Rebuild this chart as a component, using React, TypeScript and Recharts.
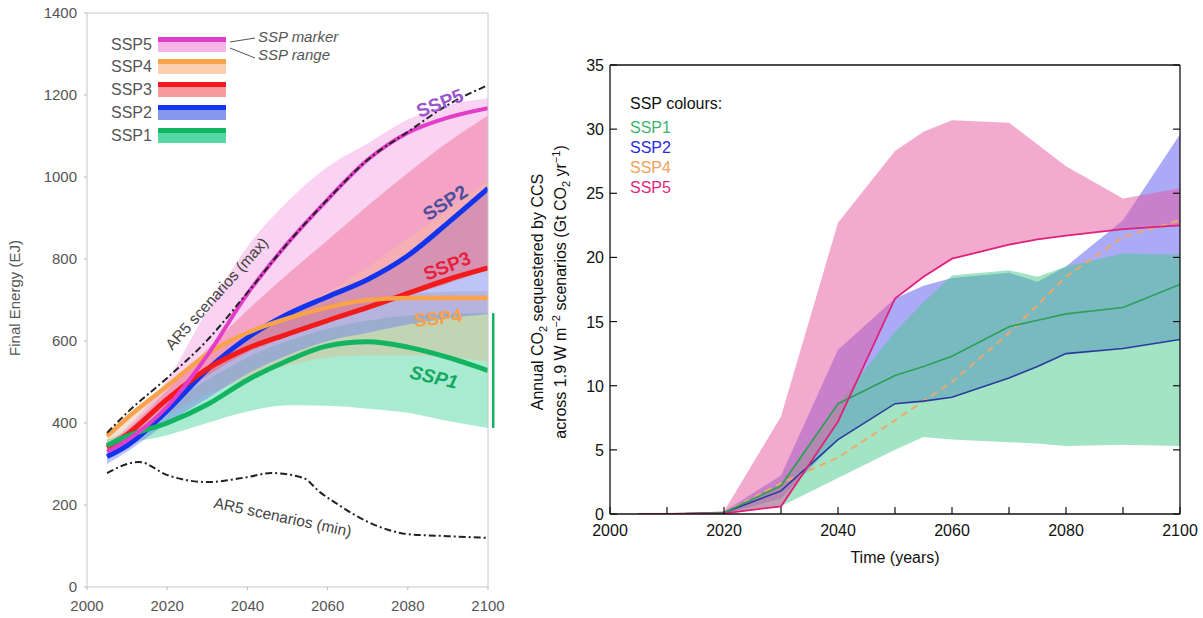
import React from "react";
import { ComposedChart, Area, Line, XAxis, YAxis, ReferenceDot, ReferenceLine } from "recharts";

const FONT = "'Liberation Sans', Arial, Helvetica, sans-serif";

// ---------------- Left panel: Final Energy (EJ) ----------------
const feYears = [2005, 2010, 2020, 2030, 2040, 2050, 2060, 2070, 2080, 2090, 2100];
const ssp1Marker = [345, 368, 400, 445, 505, 552, 588, 598, 585, 560, 528];
const ssp2Marker = [318, 345, 430, 530, 608, 665, 708, 750, 808, 888, 972];
const ssp3Marker = [340, 372, 458, 532, 582, 617, 650, 682, 716, 750, 778];
const ssp4Marker = [368, 412, 490, 568, 620, 655, 682, 700, 705, 705, 705];
const ssp5Marker = [330, 358, 440, 565, 715, 838, 945, 1042, 1108, 1145, 1168];

const ssp1Low = [315, 345, 370, 400, 428, 443, 442, 435, 425, 405, 388];
const ssp1High = [360, 380, 445, 505, 560, 600, 630, 650, 662, 667, 668];
const ssp4Low = [340, 370, 420, 470, 510, 540, 560, 565, 565, 560, 550];
const ssp4High = [375, 414, 495, 570, 620, 660, 690, 705, 715, 720, 722];
const ssp2Low = [300, 330, 400, 460, 520, 565, 600, 620, 640, 655, 665];
const ssp2High = [330, 360, 440, 535, 612, 668, 712, 755, 815, 892, 975];
const ssp3Low = [330, 360, 445, 515, 572, 610, 645, 675, 710, 740, 775];
const ssp3High = [350, 385, 480, 580, 675, 763, 846, 930, 1010, 1085, 1150];
const ssp5Low = [320, 350, 430, 520, 600, 670, 720, 780, 850, 920, 990];
const ssp5High = [345, 390, 505, 675, 830, 940, 1025, 1082, 1140, 1175, 1192];

const ar5MaxYears = [2005, 2010, 2020, 2030, 2040, 2050, 2060, 2070, 2080, 2090, 2100];
const ar5Max = [376, 425, 510, 602, 718, 838, 945, 1042, 1110, 1176, 1224];
const ar5MinYears = [2005, 2013, 2020, 2030, 2040, 2046, 2054, 2058, 2062, 2070, 2080, 2090, 2100];
const ar5Min = [278, 305, 273, 256, 268, 278, 266, 232, 205, 159, 129, 124, 120];

const feTicksX = [2000, 2020, 2040, 2060, 2080, 2100];
const feTicksY = [0, 200, 400, 600, 800, 1000, 1200, 1400];

const feLabelText = ["SSP5", "SSP2", "SSP3", "SSP4", "SSP1", "AR5 scenarios (max)", "AR5 scenarios (min)"];
const feLabelX = [2088, 2089.3, 2089.8, 2087.5, 2086.5, 2032.3, 2048.8];
const feLabelY = [1180, 937, 783, 656, 512, 716, 171];
const feLabelColor = ["#9a58c8", "#4b4f9a", "#e8203a", "#f7a24a", "#12a862", "#444", "#444"];
const feLabelAngle = [-21, -33, -21, -6, 13, -48, 12];
const feLabelSize = [19, 19, 19, 19, 19, 15.5, 15.5];
const feLabelBold = [true, true, true, true, true, false, false];
const feLabelItalic = [false, false, false, false, true, false, false];

const legendNames = ["SSP5", "SSP4", "SSP3", "SSP2", "SSP1"];
const legendDark = ["#e33cc8", "#f8a24c", "#f21a1a", "#1234ee", "#12b462"];
const legendLight = ["#f7b4e8", "#fdd0ae", "#f59a9c", "#8696f0", "#54d8a4"];

// ---------------- Right panel: CCS ----------------
const ccsYears = [2005, 2010, 2020, 2030, 2040, 2050, 2055, 2060, 2070, 2075, 2080, 2090, 2100];
const ccsSsp1 = [0, 0, 0.1, 2.2, 8.6, 10.8, 11.5, 12.3, 14.6, 15.1, 15.6, 16.1, 17.9];
const ccsSsp2 = [0, 0, 0.1, 1.8, 5.8, 8.6, 8.8, 9.1, 10.6, 11.5, 12.5, 12.9, 13.6];
const ccsSsp4 = [0, 0, 0.1, 2.4, 4.4, 7.3, 8.8, 10.3, 14.1, 16.3, 18.5, 21.6, 22.9];
const ccsSsp5 = [0, 0, 0.05, 0.6, 7.2, 16.8, 18.5, 19.9, 21.0, 21.4, 21.7, 22.2, 22.5];
const ccsSsp5Low = [0, 0, 0, 0.6, 7.2, 16.8, 18.5, 19.9, 21.0, 21.4, 21.7, 22.2, 22.5];
const ccsSsp5High = [0, 0, 0.2, 7.6, 22.7, 28.3, 29.8, 30.7, 30.5, 28.8, 27.1, 24.6, 25.4];
const ccsSsp2Low = [0, 0, 0, 1.2, 5.8, 8.6, 8.8, 9.1, 10.6, 11.5, 12.5, 12.9, 13.6];
const ccsSsp2High = [0, 0, 0.2, 3.0, 12.8, 16.8, 17.8, 18.4, 18.8, 18.1, 19.3, 22.9, 29.6];
const ccsSsp1Low = [0, 0, 0, 0.6, 2.8, 5.0, 6.0, 5.8, 5.6, 5.5, 5.3, 5.4, 5.3];
const ccsSsp1High = [0, 0, 0.1, 2.5, 8.6, 14.2, 16.5, 18.6, 19.0, 18.5, 19.3, 20.3, 20.2];

const ccsTicksX = [2000, 2010, 2020, 2030, 2040, 2050, 2060, 2070, 2080, 2090, 2100];
const ccsTicksY = [0, 5, 10, 15, 20, 25, 30, 35];
const ccsLegendNames = ["SSP1", "SSP2", "SSP4", "SSP5"];
const ccsLegendColors = ["#3db46d", "#2a2ae0", "#f0a060", "#e0287a"];

// ---------------- data tables ----------------
function buildFeRows() {
  const years = Array.from(new Set([...feYears, ...ar5MaxYears, ...ar5MinYears])).sort((a, b) => a - b);
  return years.map((y) => {
    const row: any = { year: y };
    const i = feYears.indexOf(y);
    if (i >= 0) {
      row.s1 = ssp1Marker[i];
      row.s2 = ssp2Marker[i];
      row.s3 = ssp3Marker[i];
      row.s4 = ssp4Marker[i];
      row.s5 = ssp5Marker[i];
      row.r1 = [ssp1Low[i], ssp1High[i]];
      row.r2 = [ssp2Low[i], ssp2High[i]];
      row.r3 = [ssp3Low[i], ssp3High[i]];
      row.r4 = [ssp4Low[i], ssp4High[i]];
      row.r5 = [ssp5Low[i], ssp5High[i]];
    }
    const j = ar5MaxYears.indexOf(y);
    if (j >= 0) row.amax = ar5Max[j];
    const k = ar5MinYears.indexOf(y);
    if (k >= 0) row.amin = ar5Min[k];
    return row;
  });
}

function buildCcsRows() {
  return ccsYears.map((y, i) => ({
    year: y,
    s1: ccsSsp1[i],
    s2: ccsSsp2[i],
    s4: ccsSsp4[i],
    s5: ccsSsp5[i],
    r1: [ccsSsp1Low[i], ccsSsp1High[i]],
    r2: [ccsSsp2Low[i], ccsSsp2High[i]],
    r5: [ccsSsp5Low[i], ccsSsp5High[i]],
  }));
}

const feRows = buildFeRows();
const ccsRows = buildCcsRows();

const makeLabel = (i: number) => (p: any) => (
  <text
    x={p.cx}
    y={p.cy}
    transform={`rotate(${feLabelAngle[i]} ${p.cx} ${p.cy})`}
    textAnchor="middle"
    dominantBaseline="central"
    fill={feLabelColor[i]}
    fontSize={feLabelSize[i]}
    fontWeight={feLabelBold[i] ? 700 : 400}
    fontStyle={feLabelItalic[i] ? "italic" : "normal"}
    fontFamily={FONT}
  >
    {feLabelText[i]}
  </text>
);

function LeftChart() {
  const lastLow = ssp1Low[ssp1Low.length - 1];
  const lastHigh = ssp1High[ssp1High.length - 1];
  return (
    <ComposedChart width={520} height={618} data={feRows} margin={{ top: 12, right: 31, bottom: 1, left: 37 }}>
      <XAxis
        dataKey="year"
        type="number"
        domain={[2000, 2100]}
        ticks={feTicksX}
        allowDataOverflow
        tickSize={3}
        tickMargin={10}
        height={30}
        axisLine={{ stroke: "#c8c8c8" }}
        tickLine={{ stroke: "#bbb" }}
        tick={{ fill: "#555", fontSize: 15, fontFamily: FONT }}
      />
      <XAxis xAxisId="top" orientation="top" type="number" domain={[2000, 2100]} allowDataOverflow height={1} tick={false} tickLine={false} axisLine={{ stroke: "#c8c8c8" }} />
      <YAxis
        type="number"
        domain={[0, 1400]}
        ticks={feTicksY}
        allowDataOverflow
        width={50}
        tickSize={3}
        tickMargin={7}
        axisLine={{ stroke: "#c8c8c8" }}
        tickLine={{ stroke: "#bbb" }}
        tick={{ fill: "#555", fontSize: 15, fontFamily: FONT }}
      />
      <YAxis yAxisId="right" orientation="right" type="number" domain={[0, 1400]} allowDataOverflow width={1} tick={false} tickLine={false} axisLine={{ stroke: "#c8c8c8" }} />

      <Area type="monotone" dataKey="r1" stroke="none" fill="#2fd08f" fillOpacity={0.42} connectNulls isAnimationActive={false} />
      <Area type="monotone" dataKey="r4" stroke="none" fill="#e6b48c" fillOpacity={0.4} connectNulls isAnimationActive={false} />
      <Area type="monotone" dataKey="r2" stroke="none" fill="#6a7cf0" fillOpacity={0.45} connectNulls isAnimationActive={false} />
      <Area type="monotone" dataKey="r3" stroke="none" fill="#f0606e" fillOpacity={0.5} connectNulls isAnimationActive={false} />
      <Area type="monotone" dataKey="r5" stroke="none" fill="#f090dc" fillOpacity={0.4} connectNulls isAnimationActive={false} />

      <Line type="monotone" dataKey="s2" stroke="#1234ee" strokeWidth={5} dot={false} connectNulls isAnimationActive={false} />
      <Line type="monotone" dataKey="s3" stroke="#f21a1a" strokeWidth={5} dot={false} connectNulls isAnimationActive={false} />
      <Line type="monotone" dataKey="s4" stroke="#f8a24c" strokeWidth={4.5} dot={false} connectNulls isAnimationActive={false} />
      <Line type="monotone" dataKey="s1" stroke="#12b462" strokeWidth={5} dot={false} connectNulls isAnimationActive={false} />
      <Line type="monotone" dataKey="s5" stroke="#e33cc8" strokeWidth={4} dot={false} connectNulls isAnimationActive={false} />
      <Line type="monotone" dataKey="amax" stroke="#222" strokeWidth={2} strokeDasharray="7 3 2 3" dot={false} connectNulls isAnimationActive={false} />
      <Line type="monotone" dataKey="amin" stroke="#222" strokeWidth={2} strokeDasharray="7 3 2 3" dot={false} connectNulls isAnimationActive={false} />

      <ReferenceLine
        segment={[{ x: 2101.3, y: lastLow }, { x: 2101.3, y: lastHigh }]}
        stroke="#12b462"
        strokeWidth={2.5}
        ifOverflow="visible"
      />
      {feLabelText.map((t, i) => (
        <ReferenceDot key={t} x={feLabelX[i]} y={feLabelY[i]} r={1} shape={makeLabel(i)} />
      ))}
    </ComposedChart>
  );
}

const TK = 7;
const BottomTick = (p: any) => {
  const v = p.payload.value;
  return (
    <g>
      <line x1={p.x} x2={p.x} y1={p.y} y2={p.y - TK} stroke="#111" strokeWidth={1.2} />
      {v % 20 === 0 ? (
        <text x={p.x} y={p.y + 22} textAnchor="middle" fontSize={16} fill="#111" fontFamily={FONT}>
          {v}
        </text>
      ) : null}
    </g>
  );
};
const TopTick = (p: any) => (
  <line x1={p.x} x2={p.x} y1={p.y} y2={p.y + TK} stroke="#111" strokeWidth={1.2} />
);
const LeftTick = (p: any) => (
  <g>
    <line x1={p.x} x2={p.x + TK} y1={p.y} y2={p.y} stroke="#111" strokeWidth={1.2} />
    <text x={p.x - 6} y={p.y + 6} textAnchor="end" fontSize={16} fill="#111" fontFamily={FONT}>
      {p.payload.value}
    </text>
  </g>
);
const RightTick = (p: any) => (
  <line x1={p.x} x2={p.x - TK} y1={p.y} y2={p.y} stroke="#111" strokeWidth={1.2} />
);

function RightChart() {
  return (
    <ComposedChart width={693} height={618} data={ccsRows} margin={{ top: 55, right: 13, bottom: 74, left: 60 }}>
      <XAxis dataKey="year" type="number" domain={[2000, 2100]} ticks={ccsTicksX} allowDataOverflow height={30} tickSize={0} tickMargin={0} tickLine={false} axisLine={{ stroke: "#111", strokeWidth: 1.3 }} tick={<BottomTick />} interval={0} />
      <XAxis xAxisId="top" orientation="top" type="number" domain={[2000, 2100]} ticks={ccsTicksX} allowDataOverflow height={10} tickSize={0} tickMargin={0} tickLine={false} axisLine={{ stroke: "#111", strokeWidth: 1.3 }} tick={<TopTick />} interval={0} />
      <YAxis type="number" domain={[0, 35]} ticks={ccsTicksY} allowDataOverflow width={40} tickSize={0} tickMargin={0} tickLine={false} axisLine={{ stroke: "#111", strokeWidth: 1.3 }} tick={<LeftTick />} interval={0} />
      <YAxis yAxisId="right" orientation="right" type="number" domain={[0, 35]} ticks={ccsTicksY} allowDataOverflow width={10} tickSize={0} tickMargin={0} tickLine={false} axisLine={{ stroke: "#111", strokeWidth: 1.3 }} tick={<RightTick />} interval={0} />

      <Area type="linear" dataKey="r2" stroke="none" fill="#5555ee" fillOpacity={0.5} isAnimationActive={false} />
      <Area type="linear" dataKey="r1" stroke="none" fill="#46c98a" fillOpacity={0.5} isAnimationActive={false} />
      <Area type="linear" dataKey="r5" stroke="none" fill="#e8559f" fillOpacity={0.5} isAnimationActive={false} />

      <Line type="linear" dataKey="s4" stroke="#f0a868" strokeWidth={2} strokeDasharray="7 5" dot={false} isAnimationActive={false} />
      <Line type="linear" dataKey="s2" stroke="#2a3a9e" strokeWidth={1.6} dot={false} isAnimationActive={false} />
      <Line type="linear" dataKey="s1" stroke="#2f9e58" strokeWidth={1.6} dot={false} isAnimationActive={false} />
      <Line type="linear" dataKey="s5" stroke="#e0207a" strokeWidth={1.8} dot={false} isAnimationActive={false} />
    </ComposedChart>
  );
}

const legendRowTop = [37, 59, 82, 105, 128];

function Overlay() {
  return (
    <svg width={1203} height={618} style={{ position: "absolute", left: 0, top: 0, pointerEvents: "none" }}>
      {/* Left panel axis title */}
      <text x={20} y={298} transform="rotate(-90 20 298)" textAnchor="middle" fontSize={15} fill="#555" fontFamily={FONT}>
        Final Energy (EJ)
      </text>
      {/* Left legend */}
      {legendNames.map((n, i) => (
        <g key={n}>
          <text x={111} y={legendRowTop[i] + 13} fontSize={16} fill="#555" fontFamily={FONT}>
            {n}
          </text>
          <rect x={158} y={legendRowTop[i]} width={68} height={15} fill={legendLight[i]} />
          <rect x={158} y={legendRowTop[i]} width={68} height={5} fill={legendDark[i]} />
        </g>
      ))}
      <line x1={230} y1={42} x2={255} y2={38} stroke="#555" strokeWidth={1} />
      <line x1={230} y1={48} x2={255} y2={58} stroke="#555" strokeWidth={1} />
      <text x={258} y={42} fontSize={15} fontStyle="italic" fill="#555" fontFamily={FONT}>
        SSP marker
      </text>
      <text x={258} y={60} fontSize={15} fontStyle="italic" fill="#555" fontFamily={FONT}>
        SSP range
      </text>

      {/* Right panel titles */}
      <text x={895} y={563} textAnchor="middle" fontSize={16} fill="#111" fontFamily={FONT}>
        Time (years)
      </text>
      <text x={543} y={292} transform="rotate(-90 543 292)" textAnchor="middle" fontSize={16} fill="#111" fontFamily={FONT}>
        Annual CO<tspan dy={4} fontSize={11}>2</tspan>
        <tspan dy={-4}> sequestered by CCS</tspan>
      </text>
      <text x={566} y={292} transform="rotate(-90 566 292)" textAnchor="middle" fontSize={16} fill="#111" fontFamily={FONT}>
        across 1.9 W m<tspan dy={-6} fontSize={11}>−2</tspan>
        <tspan dy={6}> scenarios (Gt CO</tspan>
        <tspan dy={4} fontSize={11}>2</tspan>
        <tspan dy={-4}> yr</tspan>
        <tspan dy={-6} fontSize={11}>−1</tspan>
        <tspan dy={6}>)</tspan>
      </text>
      <text x={630} y={109} fontSize={16} fill="#111" fontFamily={FONT}>
        SSP colours:
      </text>
      {ccsLegendNames.map((n, i) => (
        <text key={n} x={630} y={133 + i * 20} fontSize={16} fill={ccsLegendColors[i]} fontFamily={FONT}>
          {n}
        </text>
      ))}
    </svg>
  );
}

export default function App() {
  return (
    <div style={{ position: "fixed", left: 0, top: 0, width: 1203, height: 618, background: "#fff", overflow: "hidden", fontFamily: FONT }}>
      <div style={{ position: "absolute", left: 510, top: 0 }}>
        <RightChart />
      </div>
      <div style={{ position: "absolute", left: 0, top: 0 }}>
        <LeftChart />
      </div>
      <Overlay />
    </div>
  );
}
